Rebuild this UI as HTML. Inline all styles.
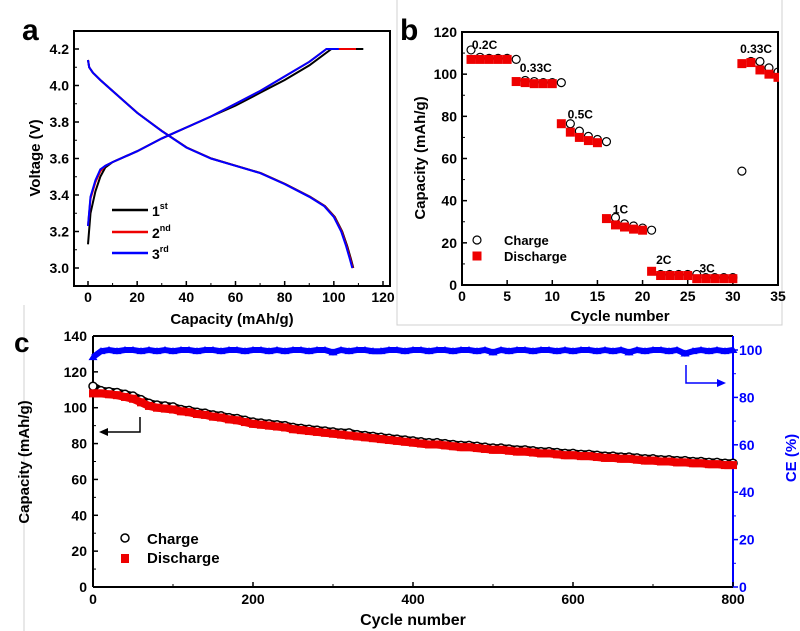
<!DOCTYPE html>
<html><head><meta charset="utf-8"><style>
html,body{margin:0;padding:0;background:#fff;}
svg{display:block;font-family:"Liberation Sans",Arial,sans-serif;font-weight:bold;}
.n{font-family:"Liberation Sans Narrow","Liberation Sans",sans-serif;}
</style></head><body>
<svg id="fig" width="800" height="631" viewBox="0 0 800 631" xmlns="http://www.w3.org/2000/svg">
<g id="frames" stroke="#d0d0d0" stroke-width="1" fill="none">
<polyline points="397,0 397,325 782,325 782,0"/>
<line x1="24" y1="305" x2="24" y2="631"/>
</g>
<g id="pa"></g>
<g id="pb"></g>
<g id="pc"></g>
</svg>
<script>
// ---------- Panel a data ----------
const aChargeCap1 = [0,1,3,5,7,10,20,30,40,50,60,70,80,90,99,112];
const aChargeV1   = [3.13,3.30,3.42,3.50,3.55,3.58,3.64,3.71,3.77,3.83,3.89,3.96,4.03,4.11,4.2,4.2];
const aChargeCap2 = [0,1,3,5,7,10,20,30,40,50,60,70,80,90,97,109];
const aChargeV2   = [3.23,3.38,3.47,3.53,3.56,3.58,3.64,3.71,3.77,3.83,3.90,3.97,4.05,4.13,4.2,4.2];
const aChargeCap3 = [0,1,3,5,7,10,20,30,40,50,60,70,80,90,97,102];
const aChargeV3   = [3.23,3.39,3.48,3.54,3.56,3.58,3.64,3.71,3.77,3.83,3.90,3.97,4.05,4.13,4.2,4.2];
const aDisCap     = [0,0.5,2,5,10,20,30,40,50,60,70,80,90,96,100,103,105,106.5,107.5];
const aDisV       = [4.14,4.10,4.07,4.03,3.97,3.85,3.75,3.66,3.60,3.56,3.52,3.46,3.39,3.34,3.28,3.20,3.12,3.05,3.0];
const aXTicks = [0,20,40,60,80,100,120];
const aYTicks = [3.0,3.2,3.4,3.6,3.8,4.0,4.2];
// ---------- Panel b data ----------
const bCycles = [1,2,3,4,5,6,7,8,9,10,11,12,13,14,15,16,17,18,19,20,21,22,23,24,25,26,27,28,29,30,31,32,33,34,35];
const bCharge = [111.5,108,107.5,107.5,107.5,107,97,96.5,96,96,96,76.5,73,70.5,69,68,32,29,28,27,26,5,5,5,5,5,3.5,3.5,3.5,3.5,54,106,106,103,101];
const bDischarge = [107,107,107,107,107,96.5,96,95.5,95.5,95.5,76.5,72.5,70,68.5,67.5,31.5,28.5,27.5,26.5,26,6.5,4.5,4.5,4.5,4.5,3,3,3,3,3,105,105.5,102,100,98.5];
const bRateLabels = ["0.2C","0.33C","0.5C","1C","2C","3C","0.33C"];
const bRateX = [1.1,6.4,11.7,16.7,21.5,26.3,30.8];
const bRateY = [112,101,79,34,10,6,110];
const bXTicks = [0,5,10,15,20,25,30,35];
const bYTicks = [0,20,40,60,80,100,120];
// ---------- Panel c data (every 10 cycles) ----------
const cCycles = [0,10,20,30,40,50,60,70,80,90,100,110,120,130,140,150,160,170,180,190,200,210,220,230,240,250,260,270,280,290,300,310,320,330,340,350,360,370,380,390,400,410,420,430,440,450,460,470,480,490,500,510,520,530,540,550,560,570,580,590,600,610,620,630,640,650,660,670,680,690,700,710,720,730,740,750,760,770,780,790,800];
const cDischarge = [108,108,107.5,107,106,105,103,101,100,99.5,99,98,97.5,96.5,96,95,94.5,93.5,93,92,91,90.5,90,89.5,89,88,87.5,87,86.5,86,85.5,85,84.5,84,83.5,83,82.5,82,81.5,81,80.5,80,79.5,79.5,79,78.5,78,78,77.5,77,76.5,76.5,76,75.5,75.5,75,74.5,74.5,74,73.5,73.5,73,73,72.5,72,72,71.5,71.5,71,70.5,70.5,70,70,69.5,69.5,69,69,68.5,68.5,68,68];
const cCharge = [112,109.5,109,108.5,107.5,106.5,104.5,102.5,101.5,101,100.5,99,98.5,97.5,97,96,95.5,94.5,94,93,92,91.5,91,90.5,90,89,88.5,88,87.5,87,86.5,86,86,85,84.5,84,83.5,83,82.5,82,81.5,81,80.5,80.5,80,79.5,79,79,78.5,78,77.5,77.5,77,76.5,76.5,76,75.5,75.5,75,74.5,74.5,74,74,73.5,73,73,72.5,72.5,72,71.5,71.5,71,71,70.5,70.5,70,70,69.5,69.5,69,69];
const cCE = [97,99.5,100,99.5,100,100,99.5,100,99.5,100,99.5,100,100,99.5,100,100,99.5,100,100,99.5,100,100,99.5,100,99.5,100,100,99.5,100,100,99,100,99.5,100,100,99.5,99.5,100,100,99.5,100,100,99.5,100,100,99.5,100,100,99.5,100,99,100,99.5,100,100,99.5,100,100,99.5,100,99.5,100,100,99.5,100,99.5,100,99,100,99.5,100,100,99.5,100,98.5,99.5,100,99.5,100,99.5,100];
const cXTicks = [0,200,400,600,800];
const cYTicks = [0,20,40,60,80,100,120,140];
const cCETicks = [0,20,40,60,80,100];

const NS="http://www.w3.org/2000/svg";
function mk(parent,tag,attrs,text){const e=document.createElementNS(NS,tag);for(const k in attrs)e.setAttribute(k,attrs[k]);if(text!==undefined)e.textContent=text;parent.appendChild(e);return e;}

// ================= Panel a =================
(function(){
const g=document.getElementById('pa');
const L=74,R=390,T=31,B=286;
const xs=v=>88+v*(383-88)/120, ys=v=>268-(v-3.0)*(268-49)/1.2;
let e=mk(g,'text',{x:22,y:40,'font-size':30,fill:'#000'},'a');


e=mk(g,'rect',{x:L,y:T,width:R-L,height:B-T,fill:'none',stroke:'#000','stroke-width':2});


aXTicks.forEach(t=>{mk(g,'line',{x1:xs(t),x2:xs(t),y1:B,y2:B-5,stroke:'#000','stroke-width':1.5});
 if(t<120) mk(g,'line',{x1:xs(t+10),x2:xs(t+10),y1:B,y2:B-3,stroke:'#000','stroke-width':1});
 e=mk(g,'text',{x:xs(t),y:B+16,'font-size':14,'text-anchor':'middle'},t);
 
 });
aYTicks.forEach(t=>{mk(g,'line',{x1:L,x2:L+5,y1:ys(t),y2:ys(t),stroke:'#000','stroke-width':1.5});
 mk(g,'line',{x1:L,x2:L+3,y1:ys(t+0.1),y2:ys(t+0.1),stroke:'#000','stroke-width':1});
 e=mk(g,'text',{x:L-5,y:ys(t)+5,'font-size':14,'text-anchor':'end'},t.toFixed(1));
 
 });
e=mk(g,'text',{x:232,y:324,'font-size':15,'text-anchor':'middle'},'Capacity (mAh/g)');


e=mk(g,'text',{x:0,y:0,'font-size':15,'text-anchor':'middle',transform:'translate(40,158) rotate(-90)'},'Voltage (V)');


function path(xsA,ysA){return xsA.map((v,i)=>(i?'L':'M')+xs(v).toFixed(1)+','+ys(ysA[i]).toFixed(1)).join(' ');}
const series=[[aChargeCap1,aChargeV1,'#000','charge-curve-1st'],[aChargeCap2,aChargeV2,'#e00','charge-curve-2nd'],[aChargeCap3,aChargeV3,'#00f','charge-curve-3rd']];
[['#000','discharge-curve-1st',1],['#e00','discharge-curve-2nd',0.5],['#00f','discharge-curve-3rd',0]].forEach(s=>{
 e=mk(g,'path',{d:path(aDisCap.map(v=>v*(1+s[2]*0.004)),aDisV),fill:'none',stroke:s[0],'stroke-width':2});
 
 });
series.forEach(s=>{e=mk(g,'path',{d:path(s[0],s[1]),fill:'none',stroke:s[2],'stroke-width':2});
 
 });
[['#000','1','st',210],['#e00','2','nd',232],['#00f','3','rd',253]].forEach(l=>{
 e=mk(g,'line',{x1:112,x2:148,y1:l[3],y2:l[3],stroke:l[0],'stroke-width':2.5});
 
 
 const t=mk(g,'text',{x:152,y:l[3]+6,'font-size':14},l[1]);
 
 
 mk(t,'tspan',{'font-size':9,dy:-7},l[2]);});
})();

// ================= Panel b =================
(function(){
const g=document.getElementById('pb');
const L=462,R=778,T=32,B=285;
const xs=v=>L+v*(R-L)/35, ys=v=>B-v*(B-T)/120;
let e=mk(g,'text',{x:400,y:40,'font-size':30},'b');


e=mk(g,'rect',{x:L,y:T,width:R-L,height:B-T,fill:'none',stroke:'#000','stroke-width':2});


bXTicks.forEach(t=>{mk(g,'line',{x1:xs(t),x2:xs(t),y1:B,y2:B-5,stroke:'#000','stroke-width':1.5});
 e=mk(g,'text',{x:xs(t),y:B+16,'font-size':14,'text-anchor':'middle'},t);
 
 });
bYTicks.forEach(t=>{mk(g,'line',{x1:L,x2:L+5,y1:ys(t),y2:ys(t),stroke:'#000','stroke-width':1.5});
 if(t<120) mk(g,'line',{x1:L,x2:L+3,y1:ys(t+10),y2:ys(t+10),stroke:'#000','stroke-width':1});
 e=mk(g,'text',{x:L-5,y:ys(t)+5,'font-size':14,'text-anchor':'end'},t);
 
 });
e=mk(g,'text',{x:620,y:321,'font-size':15,'text-anchor':'middle'},'Cycle number');


e=mk(g,'text',{x:0,y:0,'font-size':15,'text-anchor':'middle',transform:'translate(425,158) rotate(-90)'},'Capacity (mAh/g)');


const clip=mk(g,'clipPath',{id:'cb'});mk(clip,'rect',{x:L,y:T,width:R-L+1,height:B-T});
const pg=mk(g,'g',{'clip-path':'url(#cb)'});
bCycles.forEach((c,i)=>{
 e=mk(pg,'circle',{cx:xs(c),cy:ys(bCharge[i]),r:4,fill:'none',stroke:'#000','stroke-width':1.2});
 
 });
bCycles.forEach((c,i)=>{
 e=mk(pg,'rect',{x:xs(c)-4.5,y:ys(bDischarge[i])-4.5,width:9,height:9,fill:'#e00'});
 
 });
bRateLabels.forEach((s,i)=>{e=mk(g,'text',{x:xs(bRateX[i]),y:ys(bRateY[i]),'font-size':12},s);
 
 });
e=mk(g,'circle',{cx:477,cy:240,r:4,fill:'none',stroke:'#000','stroke-width':1.2});


e=mk(g,'text',{x:504,y:245,'font-size':13},'Charge');


e=mk(g,'rect',{x:472.5,y:251.5,width:9,height:9,fill:'#e00'});


e=mk(g,'text',{x:504,y:261,'font-size':13},'Discharge');


})();

// ================= Panel c =================
(function(){
const g=document.getElementById('pc');
const L=93,R=733,T=336,B=587;
const xs=v=>L+v*(R-L)/800, ys=v=>B-v*(B-T)/140, yce=v=>B-v*(B-350)/100;
let e=mk(g,'text',{x:14,y:352,'font-size':28},'c');


e=mk(g,'line',{x1:L,x2:R,y1:T,y2:T,stroke:'#000','stroke-width':2});


e=mk(g,'line',{x1:L,x2:L,y1:T,y2:B,stroke:'#000','stroke-width':2});


e=mk(g,'line',{x1:L,x2:R,y1:B,y2:B,stroke:'#000','stroke-width':2});


e=mk(g,'line',{x1:R,x2:R,y1:T,y2:B,stroke:'#00f','stroke-width':2});


cXTicks.forEach(t=>{mk(g,'line',{x1:xs(t),x2:xs(t),y1:B,y2:B-5,stroke:'#000','stroke-width':1.5});
 if(t<800) mk(g,'line',{x1:xs(t+100),x2:xs(t+100),y1:B,y2:B-3,stroke:'#000','stroke-width':1});
 e=mk(g,'text',{x:xs(t),y:B+17,'font-size':14,'text-anchor':'middle',class:'n'},t);
 
 });
cYTicks.forEach(t=>{mk(g,'line',{x1:L,x2:L+5,y1:ys(t),y2:ys(t),stroke:'#000','stroke-width':1.5});
 if(t<140) mk(g,'line',{x1:L,x2:L+3,y1:ys(t+10),y2:ys(t+10),stroke:'#000','stroke-width':1});
 e=mk(g,'text',{x:L-6,y:ys(t)+5,'font-size':14,'text-anchor':'end',class:'n'},t);
 
 });
cCETicks.forEach(t=>{mk(g,'line',{x1:R,x2:R+5,y1:yce(t),y2:yce(t),stroke:'#00f','stroke-width':1.5});
 if(t<100) mk(g,'line',{x1:R,x2:R+3,y1:yce(t+10),y2:yce(t+10),stroke:'#00f','stroke-width':1});
 e=mk(g,'text',{x:R+6,y:yce(t)+5,'font-size':14,fill:'#00f',class:'n'},t);
 
 });
e=mk(g,'text',{x:413,y:625,'font-size':16,'text-anchor':'middle',class:'n'},'Cycle number');


e=mk(g,'text',{x:0,y:0,'font-size':15,'text-anchor':'middle',transform:'translate(29,462) rotate(-90)'},'Capacity (mAh/g)');


e=mk(g,'text',{x:0,y:0,'font-size':15,'text-anchor':'middle',fill:'#00f',transform:'translate(796,458) rotate(-90)'},'CE (%)');


const cp=cCycles.map((c,i)=>xs(c).toFixed(1)+','+ys(cCharge[i]).toFixed(1)).join(' ');
const dp=cCycles.map((c,i)=>xs(c).toFixed(1)+','+ys(cDischarge[i]).toFixed(1)).join(' ');
const ep=cCycles.map((c,i)=>xs(c).toFixed(1)+','+yce(cCE[i]).toFixed(1)).join(' ');
e=mk(g,'polyline',{points:cp,fill:'none',stroke:'#000','stroke-width':8});


cCycles.forEach((c,i)=>{
 e=mk(g,'circle',{cx:xs(c),cy:ys(cCharge[i]),r:4,fill:'#fff',stroke:'#000','stroke-width':1.5});
 
 });
e=mk(g,'polyline',{points:dp,fill:'none',stroke:'#e00','stroke-width':8});


e=mk(g,'polyline',{points:ep,fill:'none',stroke:'#00f','stroke-width':6});


cCycles.forEach((c,i)=>{
 e=mk(g,'rect',{x:xs(c)-4,y:ys(cDischarge[i])-4,width:8,height:8,fill:'#e00'});
 
 
 const x=xs(c),y=yce(cCE[i]);
 e=mk(g,'polygon',{points:`${x-4.5},${y+3} ${x+4.5},${y+3} ${x},${y-4}`,fill:'#00f'});
 
 });
e=mk(g,'polyline',{points:'140,417 140,432 103,432',fill:'none',stroke:'#000','stroke-width':1.5});


mk(g,'polygon',{points:'99,432 108,428 108,436',fill:'#000'});
e=mk(g,'polyline',{points:'686,365 686,383 720,383',fill:'none',stroke:'#00f','stroke-width':1.5});


mk(g,'polygon',{points:'726,383 717,379 717,387',fill:'#00f'});
e=mk(g,'circle',{cx:125,cy:538,r:4,fill:'none',stroke:'#000','stroke-width':1.5});


e=mk(g,'text',{x:147,y:544,'font-size':15,class:'n'},'Charge');


e=mk(g,'rect',{x:121,y:554,width:8,height:9,fill:'#e00'});


e=mk(g,'text',{x:147,y:563,'font-size':15,class:'n'},'Discharge');


})();
</script>
</body></html>
